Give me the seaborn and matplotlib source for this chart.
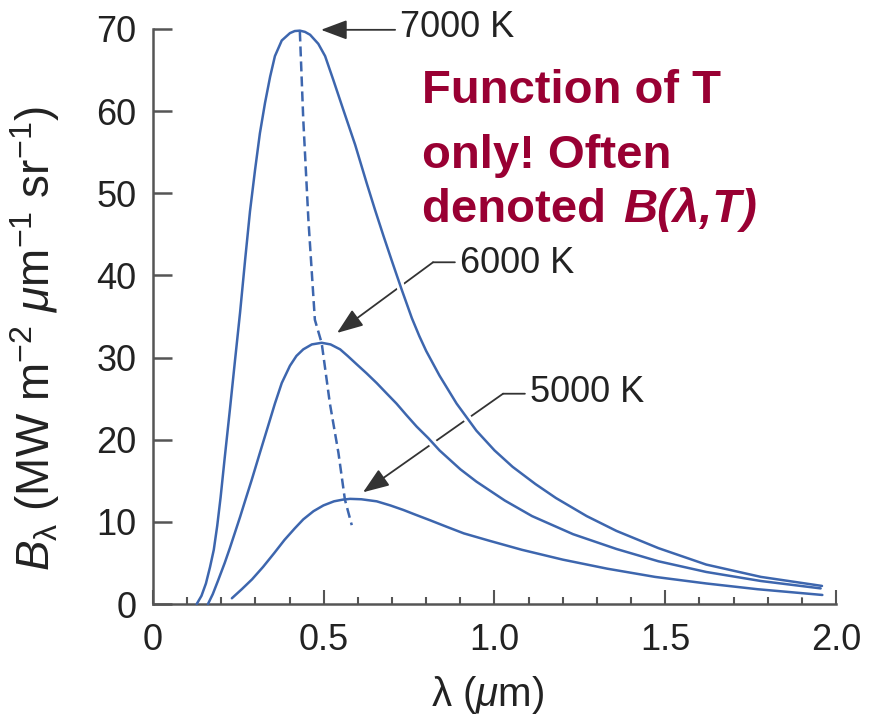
import matplotlib
matplotlib.use("Agg")
import matplotlib.pyplot as plt
import seaborn as sns
import pandas as pd

# ---------------- data ----------------
temps = ["7000 K", "6000 K", "5000 K"]

wl_7000 = [0.128, 0.142, 0.155, 0.167, 0.178, 0.188, 0.198, 0.210, 0.225, 0.240,
           0.255, 0.270, 0.284, 0.299, 0.313, 0.328, 0.343, 0.357, 0.377, 0.401,
           0.415, 0.430, 0.445, 0.460, 0.484, 0.504, 0.528, 0.557, 0.592, 0.626,
           0.650, 0.675, 0.700, 0.728, 0.758, 0.780, 0.800, 0.839, 0.889, 0.947,
           1.000, 1.053, 1.120, 1.180, 1.270, 1.357, 1.480, 1.620, 1.780, 1.959]
b_7000 = [0.0, 1.0, 2.5, 4.5, 6.6, 9.5, 13.0, 17.8, 23.6, 29.6,
          35.5, 42.0, 47.8, 52.9, 57.3, 61.0, 64.2, 66.7, 68.6, 69.5,
          69.75, 69.8, 69.65, 69.3, 68.2, 66.7, 63.8, 60.2, 55.9, 51.2,
          48.0, 44.8, 41.7, 38.3, 34.8, 32.6, 30.8, 27.8, 24.4, 21.1,
          18.7, 16.7, 14.6, 12.9, 10.7, 8.9, 6.8, 4.8, 3.3, 2.2]

wl_6000 = [0.161, 0.175, 0.190, 0.210, 0.225, 0.240, 0.255, 0.270, 0.289, 0.313,
           0.338, 0.357, 0.377, 0.401, 0.420, 0.440, 0.465, 0.494, 0.520, 0.548,
           0.570, 0.596, 0.625, 0.655, 0.685, 0.713, 0.742, 0.772, 0.806, 0.839,
           0.900, 0.947, 1.030, 1.110, 1.230, 1.357, 1.480, 1.620, 1.780, 1.955]
b_6000 = [0.0, 1.2, 2.8, 5.0, 6.8, 8.7, 10.6, 12.6, 15.1, 18.4,
          21.8, 24.4, 26.9, 29.0, 30.2, 31.0, 31.6, 31.8, 31.6, 31.0,
          30.2, 29.2, 28.1, 26.9, 25.6, 24.4, 23.0, 21.6, 20.2, 18.7,
          16.4, 14.9, 12.6, 10.7, 8.5, 6.7, 5.2, 3.9, 2.8, 1.9]

wl_5000 = [0.231, 0.260, 0.290, 0.322, 0.355, 0.385, 0.415, 0.440, 0.470, 0.499,
           0.530, 0.555, 0.577, 0.610, 0.655, 0.695, 0.733, 0.770, 0.811, 0.860,
           0.910, 0.985, 1.080, 1.200, 1.330, 1.470, 1.620, 1.770, 1.960]
b_5000 = [0.7, 1.8, 3.0, 4.5, 6.2, 7.8, 9.2, 10.3, 11.3, 12.0,
          12.5, 12.7, 12.8, 12.75, 12.5, 12.0, 11.45, 10.85, 10.2, 9.4,
          8.6, 7.7, 6.6, 5.4, 4.3, 3.3, 2.5, 1.8, 1.1]

wien_wl = [0.430, 0.440, 0.455, 0.474, 0.494, 0.518, 0.543, 0.562, 0.582]
wien_b = [69.7, 59.0, 46.8, 34.6, 31.75, 24.4, 18.4, 12.7, 9.6]

x_ticks = [0, 0.5, 1.0, 1.5, 2.0]
x_ticklabels = ["0", "0.5", "1.0", "1.5", "2.0"]
y_ticks = [0, 10, 20, 30, 40, 50, 60, 70]

# annotation geometry: (text position, elbow, arrow tip) in data units
ann_7000 = dict(text=(0.723, 70.2), elbow=(0.709, 69.9), tip=(0.492, 69.9))
ann_6000 = dict(text=(0.899, 41.5), elbow=(0.820, 41.6), tip=(0.539, 33.0))
ann_5000 = dict(text=(1.104, 25.7), elbow=(1.025, 25.6), tip=(0.615, 13.6))

df = pd.concat([
    pd.DataFrame({"wl": wl_7000, "B": b_7000, "T": temps[0]}),
    pd.DataFrame({"wl": wl_6000, "B": b_6000, "T": temps[1]}),
    pd.DataFrame({"wl": wl_5000, "B": b_5000, "T": temps[2]}),
], ignore_index=True)
wien = pd.DataFrame({"wl": wien_wl, "B": wien_b})

# ---------------- style ----------------
sns.set_style("ticks")
plt.rcParams['font.family'] = ['Liberation Sans', 'DejaVu Sans']
plt.rcParams['mathtext.fontset'] = 'custom'
plt.rcParams['mathtext.rm'] = 'Liberation Sans'
plt.rcParams['mathtext.it'] = 'Liberation Sans:italic'
plt.rcParams['mathtext.bf'] = 'Liberation Sans:bold'

BLUE = "#3d66ae"
GREY = "#555555"
TXT = "#222222"
RED = "#990033"

fig = plt.figure(figsize=(8.73, 7.21), dpi=100)
ax = fig.add_axes([153 / 873, 117 / 721, 683 / 873, 575 / 721])

# white halo beneath the curves (makes gaps in leader lines)
sns.lineplot(data=df, x="wl", y="B", units="T", estimator=None, sort=False,
             color="white", lw=6, ax=ax, zorder=2, legend=False)
sns.lineplot(data=df, x="wl", y="B", units="T", estimator=None, sort=False,
             color=BLUE, lw=1.8, ax=ax, zorder=3, legend=False)
sns.lineplot(data=wien, x="wl", y="B", estimator=None, sort=False,
             color=BLUE, lw=1.8, linestyle=(0, (4, 2)), ax=ax, zorder=4,
             legend=False)
for ln in ax.lines:
    ln.set_clip_on(False)
    ln.set_solid_joinstyle("round")

# annotations
for lab, a in zip(temps, [ann_7000, ann_6000, ann_5000]):
    ax.annotate("", xy=a["tip"], xytext=a["elbow"], zorder=1,
                arrowprops=dict(arrowstyle="-|>,head_length=0.8,head_width=0.3",
                                color="#333333", lw=1.3, mutation_scale=20,
                                shrinkA=0, shrinkB=0))
    if lab != temps[0]:
        ax.annotate("", xy=a["elbow"], xytext=(a["text"][0] - 0.015, a["elbow"][1]),
                    zorder=1,
                    arrowprops=dict(arrowstyle="-", color="#333333", lw=1.3,
                                    shrinkA=0, shrinkB=0))
    ax.text(a["text"][0], a["text"][1], lab, fontsize=26, color=TXT,
            ha="left", va="center", zorder=5)

# axes
ax.set_xlim(0, 2.0)
ax.set_ylim(0, 70)
ax.set_xticks(x_ticks)
ax.set_xticklabels(x_ticklabels)
ax.set_xticks([i / 10 for i in range(1, 20) if i % 5 != 0], minor=True)
ax.set_yticks(y_ticks)
for s in ["top", "right"]:
    ax.spines[s].set_visible(False)
for s in ["left", "bottom"]:
    ax.spines[s].set_color(GREY)
    ax.spines[s].set_linewidth(1.8)
ax.tick_params(axis="y", direction="in", length=14, width=1.8, color=GREY,
               labelsize=26, labelcolor=TXT, pad=12)
ax.tick_params(axis="x", which="major", direction="in", length=10, width=1.5,
               color=GREY, labelsize=26, labelcolor=TXT, pad=14)
ax.tick_params(axis="x", which="minor", direction="in", length=5, width=1.5,
               color=GREY)

ax.set_ylabel(r"$B_{\mathrm{\lambda}}$ (MW m$^{-2}$ $\mu$m$^{-1}$ sr$^{-1}$)",
              fontsize=33, color=TXT)
ax.yaxis.set_label_coords(-0.133, 0.462)
ax.set_xlabel(r"λ ($\mu$m)", fontsize=29, color=TXT)
ax.xaxis.set_label_coords(0.49, -0.122)

# red note
fs = 34
fig.text(422 / 873, 1 - 103 / 721, "Function of T", fontsize=fs, color=RED,
         fontweight="bold", va="baseline", ha="left")
fig.text(422 / 873, 1 - 168 / 721, "only! Often", fontsize=fs, color=RED,
         fontweight="bold", va="baseline", ha="left")
t3 = fig.text(422 / 873, 1 - 222 / 721, "denoted ", fontsize=fs, color=RED,
              fontweight="bold", va="baseline", ha="left")
r = fig.canvas.get_renderer()
bb = t3.get_window_extent(renderer=r)
fig.text(bb.x1 / (fig.dpi * fig.get_figwidth()) + 0.005, 1 - 222 / 721,
         "B(λ,T)", fontsize=fs, color=RED, fontweight="bold",
         fontstyle="italic", va="baseline", ha="left")

fig.savefig("out.png", dpi=100)
